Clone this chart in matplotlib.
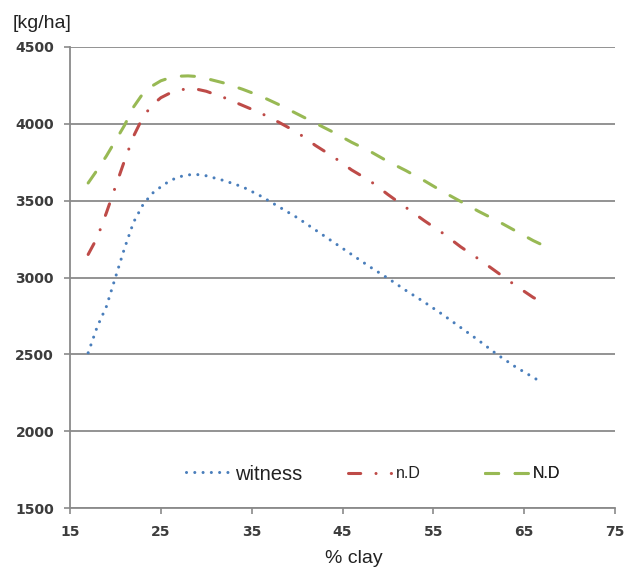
import matplotlib
matplotlib.use("Agg")
import matplotlib.pyplot as plt

clay = [17, 18, 19, 20, 21, 22, 23, 24, 25, 26, 27, 28, 29, 30, 32, 34, 36, 38, 40,
        42, 44, 46, 48, 50, 52, 54, 56, 58, 60, 62, 64, 66, 67]
witness = [2510, 2680, 2810, 3000, 3190, 3360, 3470, 3545, 3590, 3630, 3655, 3668, 3670,
           3662, 3630, 3590, 3530, 3460, 3390, 3310, 3230, 3150, 3070, 2995, 2915, 2840,
           2760, 2675, 2590, 2500, 2420, 2350, 2315]
nD = [3150, 3260, 3420, 3590, 3760, 3920, 4040, 4120, 4170, 4200, 4220, 4228, 4225,
      4212, 4170, 4120, 4070, 4010, 3945, 3860, 3785, 3700, 3630, 3540, 3455, 3370,
      3290, 3200, 3120, 3035, 2950, 2870, 2840]
ND = [3615, 3700, 3790, 3890, 3990, 4110, 4195, 4245, 4280, 4300, 4310, 4312, 4308,
      4295, 4265, 4225, 4180, 4125, 4065, 4005, 3945, 3880, 3822, 3755, 3695, 3630,
      3560, 3495, 3430, 3370, 3305, 3240, 3212]
series_names = ["witness", "n.D", "N.D"]
x_ticks = [15, 25, 35, 45, 55, 65, 75]
y_ticks = [1500, 2000, 2500, 3000, 3500, 4000, 4500]

label_font = ["Liberation Sans", "DejaVu Sans"]
grid_col = "#8a8a8a"
tick_col = "#3c3c3c"
text_col = "#222222"

fig = plt.figure(figsize=(6.32, 5.70), dpi=100)
ax = fig.add_axes([70 / 632, 1 - 508 / 570, (615 - 70) / 632, (508 - 47) / 570])

lw = 2.2
l1, = ax.plot(clay, witness, color="#4A7EBB", lw=lw, linestyle=(0, (0.01, 2.7)),
              dash_capstyle="round", label=series_names[0], zorder=3)
l2, = ax.plot(clay, nD, color="#BE4B48", lw=lw, linestyle=(0, (4.0, 5.0, 0.01, 5.0)),
              dash_capstyle="round", label=series_names[1], zorder=3)
l3, = ax.plot(clay, ND, color="#98B954", lw=lw, linestyle=(0, (4.3, 5.4)),
              dash_capstyle="round", label=series_names[2], zorder=3)

ax.set_xlim(15, 75)
ax.set_ylim(1500, 4500)
ax.set_xticks(x_ticks)
ax.set_yticks(y_ticks)
ax.yaxis.grid(True, color=grid_col, lw=1.3)
ax.set_axisbelow(True)
for s in ["top", "right"]:
    ax.spines[s].set_visible(False)
for s in ["left", "bottom"]:
    ax.spines[s].set_color(grid_col)
    ax.spines[s].set_linewidth(1.3)
ax.tick_params(axis="both", colors=grid_col, length=4.5, width=1.2, direction="out",
               labelcolor=tick_col)
ax.tick_params(axis="y", pad=7)
ax.tick_params(axis="x", pad=8)
for t in ax.get_xticklabels() + ax.get_yticklabels():
    t.set_fontweight("bold")
    t.set_fontsize(10)

ax.set_xlabel("% clay", family=label_font, fontsize=14, color=text_col)
ax.xaxis.set_label_coords(0.521, -0.091)
fig.text(13 / 632, 1 - 24 / 570, "[kg/ha]", family=label_font, fontsize=14,
         color=text_col, ha="left", va="center")

# three legend entries placed individually
legend_x = [(186 - 70) / 545, (348 - 70) / 545, (485 - 70) / 545]
legend_size = [14.5, 11.5, 11.5]
for line, xpos, fs in zip([l1, l2, l3], legend_x, legend_size):
    handle_len = 43 / (fs * 100 / 72)
    leg = ax.legend([line], [line.get_label()], loc="center left",
                    bbox_to_anchor=(xpos, (508 - 474) / 461), frameon=False,
                    borderaxespad=0, borderpad=0, handlelength=handle_len,
                    handletextpad=0.3,
                    prop={"family": label_font, "size": fs})
    for t in leg.get_texts():
        t.set_color(text_col)
    ax.add_artist(leg)

fig.savefig("out.png", dpi=100, facecolor="white")
